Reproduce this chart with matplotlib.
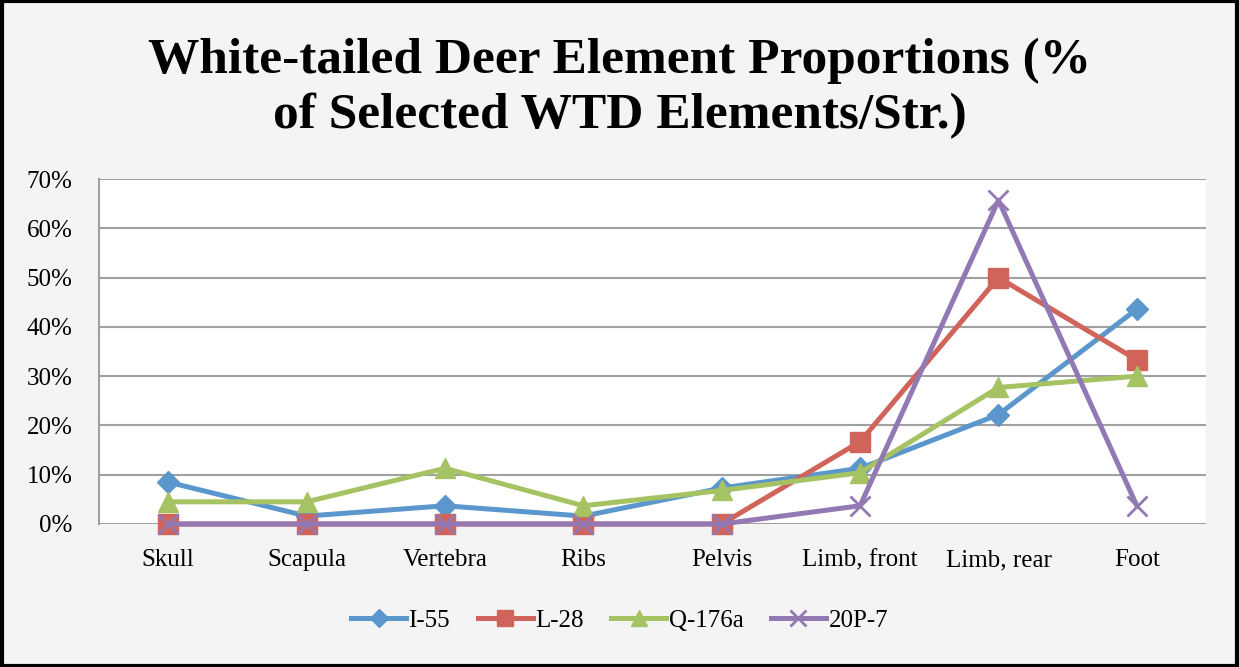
import matplotlib
matplotlib.use("Agg")
from matplotlib import pyplot as plt
from matplotlib.patches import Rectangle
from matplotlib.ticker import PercentFormatter
from matplotlib.transforms import blended_transform_factory, offset_copy

# element categories and series values (fraction of selected elements)
elements = ["Skull", "Scapula", "Vertebra", "Ribs", "Pelvis",
            "Limb, front", "Limb, rear", "Foot"]
i55 = [0.085, 0.016, 0.037, 0.016, 0.073, 0.113, 0.222, 0.436]
l28 = [0.0, 0.0, 0.0, 0.0, 0.0, 0.167, 0.500, 0.333]
q176a = [0.045, 0.045, 0.113, 0.037, 0.068, 0.104, 0.277, 0.300]
p20_7 = [0.0, 0.0, 0.0, 0.0, 0.0, 0.037, 0.657, 0.037]
names = ["I-55", "L-28", "Q-176a", "20P-7"]

serif = "Liberation Serif"

fig = plt.figure(figsize=(12.39, 6.67), dpi=100)
fig.patch.set_facecolor("#f4f4f4")
fig.patches.append(Rectangle((0.0015, 0.002), 0.997, 0.996, transform=fig.transFigure,
                             fill=False, edgecolor="black", linewidth=3))

ax = fig.add_axes([0.0799, 0.2144, 0.8935, 0.5172])
ax.set_facecolor("white")

x = range(len(elements))
ax.plot(x, i55, color="#5b97cd", lw=3.6, marker="D", ms=11, label=names[0], clip_on=False)
ax.plot(x, l28, color="#d0645a", lw=3.6, marker="s", ms=14, label=names[1], clip_on=False)
ax.plot(x, q176a, color="#a6c363", lw=3.6, marker="^", ms=15, label=names[2], clip_on=False)
ax.plot(x, p20_7, color="#9279b4", lw=3.6, marker="x", ms=14, mew=2, label=names[3],
        clip_on=False)

ax.set_xlim(-0.5, len(elements) - 0.5)
ax.set_ylim(0, 0.7)
ax.set_yticks([i / 10 for i in range(8)])
ax.yaxis.set_major_formatter(PercentFormatter(1.0, decimals=0))
ax.set_xticks(list(x))
ax.set_xticklabels([])
ax.grid(axis="y", color="#a0a0a0", lw=1.5)
ax.set_axisbelow(True)
for s in ["top", "right", "bottom"]:
    ax.spines[s].set_visible(False)
ax.spines["left"].set_color("#a0a0a0")
ax.spines["left"].set_linewidth(1.5)
ax.tick_params(length=0, labelsize=18)
ax.tick_params(axis="y", pad=19)
for lab in ax.get_yticklabels():
    lab.set_family(serif)

# category labels on a shared baseline
trans = offset_copy(blended_transform_factory(ax.transData, ax.transAxes),
                    fig=fig, y=-42, units="dots")
for xi, name in zip(x, elements):
    ax.text(xi, 0, name, transform=trans, ha="center", va="baseline",
            fontsize=18, family=serif)

fig.text(0.5, 1 - 73 / 667, "White-tailed Deer Element Proportions (%",
         ha="center", va="baseline", fontsize=37, fontweight="bold", family=serif)
fig.text(0.5, 1 - 128 / 667, "of Selected WTD Elements/Str.)",
         ha="center", va="baseline", fontsize=37, fontweight="bold", family=serif)

fig.legend(loc="center", bbox_to_anchor=(0.5, 0.07), ncol=4, frameon=False,
           prop={"family": serif, "size": 18}, handlelength=2.2, columnspacing=1.1,
           handletextpad=0.1, markerscale=0.8)

fig.savefig("out.png", dpi=100, facecolor=fig.get_facecolor())
